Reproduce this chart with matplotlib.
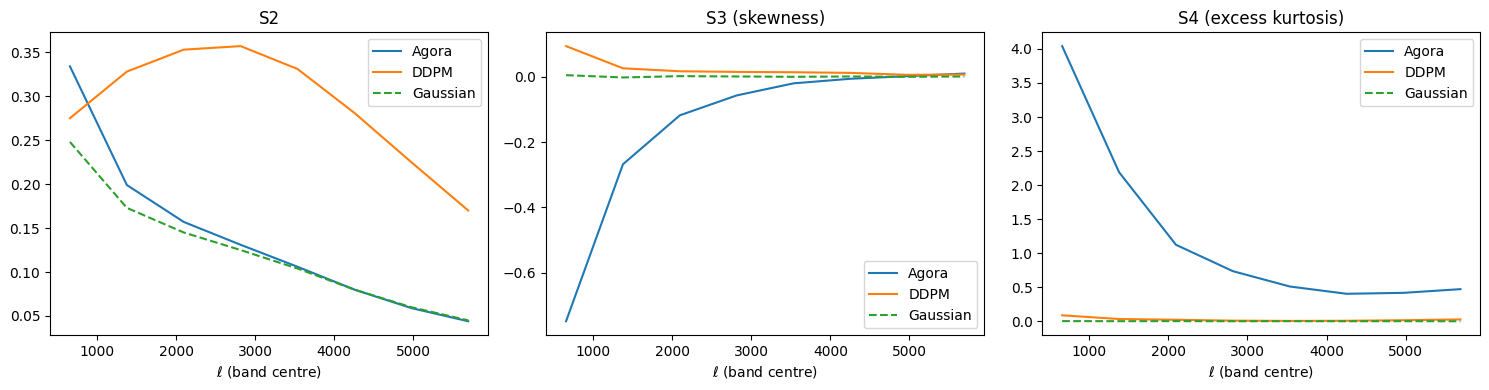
import numpy as np
import matplotlib
matplotlib.use("Agg")
import matplotlib.pyplot as plt

ell = [655, 1375, 2095, 2815, 3535, 4255, 4975, 5695]

s2_agora = [0.334, 0.199, 0.157, 0.131, 0.106, 0.080, 0.059, 0.044]
s2_ddpm = [0.275, 0.328, 0.353, 0.357, 0.331, 0.281, 0.225, 0.170]
s2_gauss = [0.248, 0.173, 0.145, 0.125, 0.104, 0.080, 0.060, 0.045]

s3_agora = [-0.749, -0.268, -0.118, -0.057, -0.020, -0.006, 0.002, 0.010]
s3_ddpm = [0.094, 0.026, 0.017, 0.015, 0.014, 0.012, 0.006, 0.007]
s3_gauss = [0.005, -0.002, 0.002, 0.001, 0.000, 0.001, 0.000, 0.001]

s4_agora = [4.04, 2.19, 1.125, 0.738, 0.513, 0.406, 0.420, 0.474]
s4_ddpm = [0.090, 0.036, 0.025, 0.012, 0.008, 0.010, 0.018, 0.030]
s4_gauss = [0.005, 0.004, 0.005, 0.003, 0.004, 0.003, 0.004, 0.003]

titles = ["S2", "S3 (skewness)", "S4 (excess kurtosis)"]
data = [(s2_agora, s2_ddpm, s2_gauss),
        (s3_agora, s3_ddpm, s3_gauss),
        (s4_agora, s4_ddpm, s4_gauss)]
legend_locs = ["upper right", "lower right", "upper right"]

fig, axes = plt.subplots(1, 3, figsize=(14.89, 3.9), dpi=100)
for ax, title, (a, d, g), loc in zip(axes, titles, data, legend_locs):
    ax.plot(ell, a, label="Agora")
    ax.plot(ell, d, label="DDPM")
    ax.plot(ell, g, "--", label="Gaussian")
    ax.set_title(title)
    ax.set_xlabel(r"$\ell$ (band centre)")
    ax.legend(loc=loc)

plt.subplots_adjust(left=0.0336, right=0.9942, top=0.917, bottom=0.141, wspace=0.1324)
plt.savefig("out.png", dpi=100)
